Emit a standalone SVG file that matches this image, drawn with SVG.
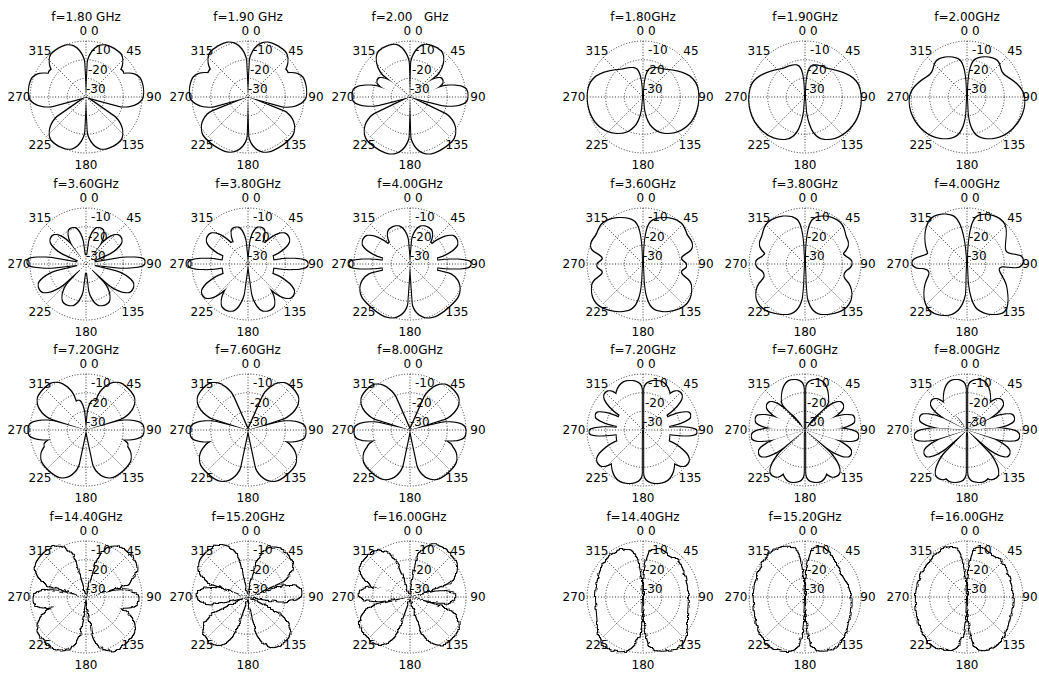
<svg xmlns="http://www.w3.org/2000/svg" width="1039" height="673" viewBox="0 0 1039 673">
<style>
.g{fill:none;stroke:#000;stroke-width:0.8;stroke-dasharray:1 1.8}
text{font-family:"DejaVu Sans","Liberation Sans",sans-serif;font-size:12px;fill:#000}
.m{text-anchor:middle}
</style>
<defs>
<g id="grid" class="g">
<circle r="56"/><circle r="37.3"/><circle r="18.7"/>
<path d="M0,-56V56M-56,0H56M-39.6,-39.6L39.6,39.6M39.6,-39.6L-39.6,39.6"/>
</g>
<path id="pt" d="M0,0 L0.92,-0.55 C1.1,-0.66 1.1,-0.9 0.6,-0.98 C0.3,-1.02 -0.3,-1.02 -0.6,-0.98 C-1.1,-0.9 -1.1,-0.66 -0.92,-0.55 Z"/>
<path id="hp" d="M0,0 L0,-0.8 C0,-0.95 0.2,-1 0.45,-1 C0.8,-1 1,-0.85 1,-0.6 C1,-0.4 0.2,-0.3 0,0Z"/>
<filter id="ol" x="-20%" y="-20%" width="140%" height="140%">
<feMorphology in="SourceAlpha" operator="dilate" radius="1.4" result="d"/>
<feComposite in="d" in2="SourceAlpha" operator="out"/>
</filter>
<filter id="olj" x="-20%" y="-20%" width="140%" height="140%">
<feTurbulence type="fractalNoise" baseFrequency="0.2" numOctaves="2" seed="7" result="n"/>
<feDisplacementMap in="SourceAlpha" in2="n" scale="4" xChannelSelector="R" yChannelSelector="G" result="s"/>
<feMorphology in="s" operator="dilate" radius="1.4" result="d"/>
<feComposite in="d" in2="s" operator="out"/>
</filter>
</defs>
<rect width="1039" height="673" fill="#fff"/>

<g id="l1" transform="translate(86,97)">
<use href="#grid"/>
<text class="m" y="-76">f=1.80 GHz</text><text class="m" x="3" y="-62">0 0</text>
<text class="m" x="-46" y="-42">315</text><text class="m" x="48" y="-42">45</text>
<text class="m" x="-67" y="4">270</text><text class="m" x="68" y="4">90</text>
<text class="m" x="-46" y="52">225</text><text class="m" x="47" y="52">135</text>
<text class="m" y="72">180</text>
<text x="5" y="-43">-10</text><text x="2" y="-23">-20</text><text x="0" y="-4">-30</text>
<g filter="url(#ol)">
<use href="#pt" transform="rotate(29) scale(16.1,55)"/><use href="#pt" transform="rotate(55) scale(5.6,44)"/><use href="#pt" transform="rotate(80) scale(15.9,57)"/><use href="#pt" transform="rotate(151) scale(16.1,55)"/>
<use href="#pt" transform="rotate(-29) scale(16.1,55)"/><use href="#pt" transform="rotate(-55) scale(5.6,44)"/><use href="#pt" transform="rotate(-80) scale(15.9,57)"/><use href="#pt" transform="rotate(-151) scale(16.1,55)"/>
</g>
</g>

<g id="l2" transform="translate(248,97)">
<use href="#grid"/>
<text class="m" y="-76">f=1.90 GHz</text><text class="m" x="3" y="-62">0 0</text>
<text class="m" x="-46" y="-42">315</text><text class="m" x="48" y="-42">45</text>
<text class="m" x="-67" y="4">270</text><text class="m" x="68" y="4">90</text>
<text class="m" x="-46" y="52">225</text><text class="m" x="47" y="52">135</text>
<text class="m" y="72">180</text>
<text x="5" y="-43">-10</text><text x="2" y="-23">-20</text><text x="0" y="-4">-30</text>
<g filter="url(#ol)">
<use href="#pt" transform="rotate(30) scale(17.7,58)"/><use href="#pt" transform="rotate(56) scale(6.9,46)"/><use href="#pt" transform="rotate(80) scale(16.2,58)"/><use href="#pt" transform="rotate(145) scale(22.6,58)"/>
<use href="#pt" transform="rotate(-30) scale(17.7,58)"/><use href="#pt" transform="rotate(-56) scale(6.9,46)"/><use href="#pt" transform="rotate(-80) scale(16.2,58)"/><use href="#pt" transform="rotate(-145) scale(22.6,58)"/>
</g>
</g>

<g id="l3" transform="translate(410,97)">
<use href="#grid"/>
<text class="m" y="-76" style="white-space:pre">f=2.00   GHz</text><text class="m" x="3" y="-62">0 0</text>
<text class="m" x="-46" y="-42">315</text><text class="m" x="48" y="-42">45</text>
<text class="m" x="-67" y="4">270</text><text class="m" x="68" y="4">90</text>
<text class="m" x="-46" y="52">225</text><text class="m" x="47" y="52">135</text>
<text class="m" y="72">180</text>
<text x="5" y="-43">-10</text><text x="2" y="-23">-20</text><text x="0" y="-4">-30</text>
<g filter="url(#ol)">
<use href="#pt" transform="rotate(26) scale(14.7,55)"/><use href="#pt" transform="rotate(62) scale(4.6,36)"/><use href="#pt" transform="rotate(88) scale(9.8,57)"/><use href="#pt" transform="rotate(147) scale(21.6,60)"/>
<use href="#pt" transform="rotate(-26) scale(14.7,55)"/><use href="#pt" transform="rotate(-62) scale(4.6,36)"/><use href="#pt" transform="rotate(-88) scale(9.8,57)"/><use href="#pt" transform="rotate(-147) scale(21.6,60)"/>
</g>
</g>

<g id="l4" transform="translate(86,264)">
<use href="#grid"/>
<text class="m" y="-76">f=3.60GHz</text><text class="m" x="3" y="-62">0 0</text>
<text class="m" x="-46" y="-42">315</text><text class="m" x="48" y="-42">45</text>
<text class="m" x="-67" y="4">270</text><text class="m" x="68" y="4">90</text>
<text class="m" x="-46" y="52">225</text><text class="m" x="47" y="52">135</text>
<text class="m" y="72">180</text>
<text x="5" y="-43">-10</text><text x="2" y="-23">-20</text><text x="0" y="-4">-30</text>
<g filter="url(#ol)">
<circle r="9"/>
<use href="#pt" transform="rotate(22) scale(5.7,38)"/><use href="#pt" transform="rotate(52) scale(6.4,43)"/><use href="#pt" transform="rotate(88) scale(4.9,58)"/><use href="#pt" transform="rotate(118) scale(7.8,52)"/><use href="#pt" transform="rotate(155) scale(8.6,44)"/>
<use href="#pt" transform="rotate(-22) scale(5.7,38)"/><use href="#pt" transform="rotate(-52) scale(6.4,43)"/><use href="#pt" transform="rotate(-88) scale(4.9,58)"/><use href="#pt" transform="rotate(-118) scale(7.8,52)"/><use href="#pt" transform="rotate(-155) scale(8.6,44)"/>
</g>
</g>

<g id="l5" transform="translate(248,264)">
<use href="#grid"/>
<text class="m" y="-76">f=3.80GHz</text><text class="m" x="3" y="-62">0 0</text>
<text class="m" x="-46" y="-42">315</text><text class="m" x="48" y="-42">45</text>
<text class="m" x="-67" y="4">270</text><text class="m" x="68" y="4">90</text>
<text class="m" x="-46" y="52">225</text><text class="m" x="47" y="52">135</text>
<text class="m" y="72">180</text>
<text x="5" y="-43">-10</text><text x="2" y="-23">-20</text><text x="0" y="-4">-30</text>
<g filter="url(#ol)">
<ellipse cx="13.5" rx="12" ry="22"/><ellipse cx="-13.5" rx="12" ry="22"/>
<use href="#pt" transform="rotate(20) scale(5.7,38)"/><use href="#pt" transform="rotate(55) scale(7.7,48)"/><use href="#pt" transform="rotate(90) scale(5,59)"/><use href="#pt" transform="rotate(125) scale(7.5,54)"/><use href="#pt" transform="rotate(155) scale(9.2,50)"/>
<use href="#pt" transform="rotate(-20) scale(5.7,38)"/><use href="#pt" transform="rotate(-55) scale(7.7,48)"/><use href="#pt" transform="rotate(-90) scale(5,59)"/><use href="#pt" transform="rotate(-125) scale(7.5,54)"/><use href="#pt" transform="rotate(-155) scale(9.2,50)"/>
</g>
</g>

<g id="l6" transform="translate(410,264)">
<use href="#grid"/>
<text class="m" y="-76">f=4.00GHz</text><text class="m" x="3" y="-62">0 0</text>
<text class="m" x="-46" y="-42">315</text><text class="m" x="48" y="-42">45</text>
<text class="m" x="-67" y="4">270</text><text class="m" x="68" y="4">90</text>
<text class="m" x="-46" y="52">225</text><text class="m" x="47" y="52">135</text>
<text class="m" y="72">180</text>
<text x="5" y="-43">-10</text><text x="2" y="-23">-20</text><text x="0" y="-4">-30</text>
<g filter="url(#ol)">
<ellipse cx="14.5" rx="13" ry="24"/><ellipse cx="-14.5" rx="13" ry="24"/>
<use href="#pt" transform="rotate(25) scale(8.7,40)"/><use href="#pt" transform="rotate(62) scale(7.8,52)"/><use href="#pt" transform="rotate(90) scale(4.4,60)"/><use href="#pt" transform="rotate(140) scale(24.8,57)"/>
<use href="#pt" transform="rotate(-25) scale(8.7,40)"/><use href="#pt" transform="rotate(-62) scale(7.8,52)"/><use href="#pt" transform="rotate(-90) scale(4.4,60)"/><use href="#pt" transform="rotate(-140) scale(24.8,57)"/>
</g>
</g>

<g id="l7" transform="translate(86,430)">
<use href="#grid"/>
<text class="m" y="-76">f=7.20GHz</text><text class="m" x="3" y="-62">0 0</text>
<text class="m" x="-46" y="-42">315</text><text class="m" x="48" y="-42">45</text>
<text class="m" x="-67" y="4">270</text><text class="m" x="68" y="4">90</text>
<text class="m" x="-46" y="52">225</text><text class="m" x="47" y="52">135</text>
<text class="m" y="72">180</text>
<text x="5" y="-43">-10</text><text x="2" y="-23">-20</text><text x="0" y="-4">-30</text>
<g filter="url(#ol)">
<use href="#pt" transform="rotate(16) scale(3.2,30)"/><use href="#pt" transform="rotate(46) scale(17,58)"/><use href="#pt" transform="rotate(90) scale(9.2,57)"/><use href="#pt" transform="rotate(112) scale(4.7,44)"/><use href="#pt" transform="rotate(138) scale(18.7,54)"/>
<use href="#pt" transform="rotate(-16) scale(3.2,30)"/><use href="#pt" transform="rotate(-46) scale(17,58)"/><use href="#pt" transform="rotate(-90) scale(9.2,57)"/><use href="#pt" transform="rotate(-112) scale(4.7,44)"/><use href="#pt" transform="rotate(-138) scale(18.7,54)"/>
</g>
</g>

<g id="l8" transform="translate(248,430)">
<use href="#grid"/>
<text class="m" y="-76">f=7.60GHz</text><text class="m" x="3" y="-62">0 0</text>
<text class="m" x="-46" y="-42">315</text><text class="m" x="48" y="-42">45</text>
<text class="m" x="-67" y="4">270</text><text class="m" x="68" y="4">90</text>
<text class="m" x="-46" y="52">225</text><text class="m" x="47" y="52">135</text>
<text class="m" y="72">180</text>
<text x="5" y="-43">-10</text><text x="2" y="-23">-20</text><text x="0" y="-4">-30</text>
<g filter="url(#ol)">
<use href="#pt" transform="rotate(48) scale(16,60)"/><use href="#pt" transform="rotate(92) scale(9.8,57)"/><use href="#pt" transform="rotate(114) scale(4.4,46)"/><use href="#pt" transform="rotate(138) scale(20.1,58)"/>
<use href="#pt" transform="rotate(-48) scale(16,60)"/><use href="#pt" transform="rotate(-92) scale(9.8,57)"/><use href="#pt" transform="rotate(-114) scale(4.4,46)"/><use href="#pt" transform="rotate(-138) scale(20.1,58)"/>
</g>
</g>

<g id="l9" transform="translate(410,430)">
<use href="#grid"/>
<text class="m" y="-76">f=8.00GHz</text><text class="m" x="3" y="-62">0 0</text>
<text class="m" x="-46" y="-42">315</text><text class="m" x="48" y="-42">45</text>
<text class="m" x="-67" y="4">270</text><text class="m" x="68" y="4">90</text>
<text class="m" x="-46" y="52">225</text><text class="m" x="47" y="52">135</text>
<text class="m" y="72">180</text>
<text x="5" y="-43">-10</text><text x="2" y="-23">-20</text><text x="0" y="-4">-30</text>
<g filter="url(#ol)">
<use href="#pt" transform="rotate(48) scale(15.5,58)"/><use href="#pt" transform="rotate(92) scale(8.8,55)"/><use href="#pt" transform="rotate(114) scale(4.4,45)"/><use href="#pt" transform="rotate(138) scale(19.4,56)"/>
<use href="#pt" transform="rotate(-48) scale(15.5,58)"/><use href="#pt" transform="rotate(-92) scale(8.8,55)"/><use href="#pt" transform="rotate(-114) scale(4.4,45)"/><use href="#pt" transform="rotate(-138) scale(19.4,56)"/>
</g>
</g>

<g id="l10" transform="translate(86,597)">
<use href="#grid"/>
<text class="m" y="-76">f=14.40GHz</text><text class="m" x="3" y="-62">0 0</text>
<text class="m" x="-46" y="-42">315</text><text class="m" x="48" y="-42">45</text>
<text class="m" x="-67" y="4">270</text><text class="m" x="68" y="4">90</text>
<text class="m" x="-46" y="52">225</text><text class="m" x="47" y="52">135</text>
<text class="m" y="72">180</text>
<text x="5" y="-43">-10</text><text x="2" y="-23">-20</text><text x="0" y="-4">-30</text>
<g filter="url(#olj)">
<use href="#pt" transform="rotate(45) scale(19.2,60)"/><use href="#pt" transform="rotate(93) scale(8.4,52)"/><use href="#pt" transform="rotate(115) scale(4.4,46)"/><use href="#pt" transform="rotate(140) scale(20.8,60)"/>
<use href="#pt" transform="rotate(-45) scale(19.2,60)"/><use href="#pt" transform="rotate(-93) scale(8.4,52)"/><use href="#pt" transform="rotate(-115) scale(4.4,46)"/><use href="#pt" transform="rotate(-140) scale(20.8,60)"/>
</g>
</g>

<g id="l11" transform="translate(248,597)">
<use href="#grid"/>
<text class="m" y="-76">f=15.20GHz</text><text class="m" x="3" y="-62">0 0</text>
<text class="m" x="-46" y="-42">315</text><text class="m" x="48" y="-42">45</text>
<text class="m" x="-67" y="4">270</text><text class="m" x="68" y="4">90</text>
<text class="m" x="-46" y="52">225</text><text class="m" x="47" y="52">135</text>
<text class="m" y="72">180</text>
<text x="5" y="-43">-10</text><text x="2" y="-23">-20</text><text x="0" y="-4">-30</text>
<g filter="url(#olj)">
<use href="#pt" transform="rotate(40) scale(16.7,57)"/><use href="#pt" transform="rotate(85) scale(7.3,53)"/><use href="#pt" transform="rotate(143) scale(15.2,57)"/>
<use href="#pt" transform="rotate(222) scale(14.1,58)"/><use href="#pt" transform="rotate(272) scale(7.5,50)"/><use href="#pt" transform="rotate(318) scale(19.2,60)"/>
</g>
</g>

<g id="l12" transform="translate(410,597)">
<use href="#grid"/>
<text class="m" y="-76">f=16.00GHz</text><text class="m" x="3" y="-62">0 0</text>
<text class="m" x="-46" y="-42">315</text><text class="m" x="48" y="-42">45</text>
<text class="m" x="-67" y="4">270</text><text class="m" x="68" y="4">90</text>
<text class="m" x="-46" y="52">225</text><text class="m" x="47" y="52">135</text>
<text class="m" y="72">180</text>
<text x="5" y="-43">-10</text><text x="2" y="-23">-20</text><text x="0" y="-4">-30</text>
<g filter="url(#olj)">
<use href="#pt" transform="rotate(40) scale(20.1,58)"/><use href="#pt" transform="rotate(90) scale(5.7,45)"/><use href="#pt" transform="rotate(134) scale(17.7,58)"/>
<use href="#pt" transform="rotate(228) scale(18.5,58)"/><use href="#pt" transform="rotate(274) scale(6.4,50)"/><use href="#pt" transform="rotate(312) scale(17,58)"/>
</g>
</g>

<g id="r1" transform="translate(643,97)">
<use href="#grid"/>
<text class="m" y="-76">f=1.80GHz</text><text class="m" x="3" y="-62">0 0</text>
<text class="m" x="-46" y="-42">315</text><text class="m" x="48" y="-42">45</text>
<text class="m" x="-69" y="4">270</text><text class="m" x="63" y="4">90</text>
<text class="m" x="-46" y="52">225</text><text class="m" x="47" y="52">135</text>
<text class="m" y="72">180</text>
<text x="5" y="-43">-10</text><text x="2" y="-23">-20</text><text x="0" y="-4">-30</text>
<g filter="url(#ol)">
<path id="r1h" d="M1,0 C1,-10 2,-22 6,-27 C10,-31 16,-28 24,-27 C38,-26 50,-22 54,-10 C57,0 55,14 48,24 C40,34 28,38 18,35 C9,32 4,24 2,12 Z"/>
<use href="#r1h" transform="scale(-1,1)"/>
</g>
</g>

<g id="r2" transform="translate(805,97)">
<use href="#grid"/>
<text class="m" y="-76">f=1.90GHz</text><text class="m" x="3" y="-62">0 0</text>
<text class="m" x="-46" y="-42">315</text><text class="m" x="48" y="-42">45</text>
<text class="m" x="-69" y="4">270</text><text class="m" x="63" y="4">90</text>
<text class="m" x="-46" y="52">225</text><text class="m" x="47" y="52">135</text>
<text class="m" y="72">180</text>
<text x="5" y="-43">-10</text><text x="2" y="-23">-20</text><text x="0" y="-4">-30</text>
<g filter="url(#ol)">
<path id="r2h" d="M1,0 C1,-12 2,-26 6,-30 C10,-34 16,-30 22,-28 C34,-26 48,-22 53,-12 C58,0 56,14 50,24 C42,36 32,42 22,42 C12,42 5,34 2,14 Z"/>
<use href="#r2h" transform="scale(-1,1)"/>
</g>
</g>

<g id="r3" transform="translate(967,97)">
<use href="#grid"/>
<text class="m" y="-76">f=2.00GHz</text><text class="m" x="3" y="-62">0 0</text>
<text class="m" x="-46" y="-42">315</text><text class="m" x="48" y="-42">45</text>
<text class="m" x="-69" y="4">270</text><text class="m" x="63" y="4">90</text>
<text class="m" x="-46" y="52">225</text><text class="m" x="47" y="52">135</text>
<text class="m" y="72">180</text>
<text x="5" y="-43">-10</text><text x="2" y="-23">-20</text><text x="0" y="-4">-30</text>
<g filter="url(#ol)">
<path id="r3h" d="M1,0 C1,-14 2,-30 7,-36 C12,-41 24,-41 30,-36 C34,-32 32,-25 38,-21 C46,-16 55,-10 57,0 C59,12 52,26 42,34 C32,42 20,43 12,39 C5,35 2,24 1.5,12 Z"/>
<use href="#r3h" transform="scale(-1,1)"/>
</g>
</g>

<g id="r4" transform="translate(643,264)">
<use href="#grid"/>
<text class="m" y="-76">f=3.60GHz</text><text class="m" x="3" y="-62">0 0</text>
<text class="m" x="-46" y="-42">315</text><text class="m" x="48" y="-42">45</text>
<text class="m" x="-69" y="4">270</text><text class="m" x="63" y="4">90</text>
<text class="m" x="-46" y="52">225</text><text class="m" x="47" y="52">135</text>
<text class="m" y="72">180</text>
<text x="5" y="-43">-10</text><text x="2" y="-23">-20</text><text x="0" y="-4">-30</text>
<g filter="url(#ol)">
<path id="r4h" d="M1,0 C1,-16 2,-36 8,-42 C14,-48 30,-47 37,-41 C42,-37 42,-31 45,-27 C49,-22 51,-17 46,-13 C42,-10 37,-8 38,-5 C39,-2 44,-1 43,2 C42,5 37,5 38,9 C39,13 47,15 48,22 C49,31 46,38 40,42 C32,47 20,49 12,45 C5,41 2,28 1.5,12 Z"/>
<use href="#r4h" transform="scale(-1.06,1)"/>
</g>
</g>

<g id="r5" transform="translate(805,264)">
<use href="#grid"/>
<text class="m" y="-76">f=3.80GHz</text><text class="m" x="3" y="-62">0 0</text>
<text class="m" x="-46" y="-42">315</text><text class="m" x="48" y="-42">45</text>
<text class="m" x="-69" y="4">270</text><text class="m" x="63" y="4">90</text>
<text class="m" x="-46" y="52">225</text><text class="m" x="47" y="52">135</text>
<text class="m" y="72">180</text>
<text x="5" y="-43">-10</text><text x="2" y="-23">-20</text><text x="0" y="-4">-30</text>
<g filter="url(#ol)">
<path id="r5h" d="M1,0 C1,-16 2,-38 8,-44 C14,-50 28,-48 35,-41 C40,-36 39,-30 42,-24 C45,-18 40,-14 38,-11 C37,-8 44,-6 46,-3 C48,1 44,4 41,6 C38,9 37,13 41,17 C46,22 48,30 45,37 C41,46 32,49 22,50 C12,51 6,46 3,34 C2,26 1.5,16 1.5,12 Z"/>
<use href="#r5h" transform="scale(-1.05,1)"/>
</g>
</g>

<g id="r6" transform="translate(967,264)">
<use href="#grid"/>
<text class="m" y="-76">f=4.00GHz</text><text class="m" x="3" y="-62">0 0</text>
<text class="m" x="-46" y="-42">315</text><text class="m" x="48" y="-42">45</text>
<text class="m" x="-69" y="4">270</text><text class="m" x="63" y="4">90</text>
<text class="m" x="-46" y="52">225</text><text class="m" x="47" y="52">135</text>
<text class="m" y="72">180</text>
<text x="5" y="-43">-10</text><text x="2" y="-23">-20</text><text x="0" y="-4">-30</text>
<g filter="url(#ol)">
<path d="M1,0 C1,-18 3,-42 10,-47 C17,-52 32,-48 37,-40 C41,-33 37,-22 38,-14 C39,-9 47,-10 53,-8 C58,-5 56,2 50,3 C43,4 34,0 32,4 C30,8 37,14 39,22 C41,32 42,44 36,48 C29,52 16,50 10,44 C5,38 2,26 1.5,12 Z"/>
<path d="M-1,0 C-1,-18 -5,-44 -15,-48 C-25,-52 -36,-48 -39,-40 C-43,-30 -42,-20 -39,-12 C-37,-8 -48,-8 -53,-4 C-57,0 -52,4 -46,4 C-40,4 -36,6 -38,12 C-41,18 -44,26 -42,36 C-40,46 -32,51 -22,51 C-12,51 -5,44 -2,30 C-1.5,22 -1.5,16 -1.5,12 Z"/>
</g>
</g>

<g id="r7" transform="translate(643,430)">
<use href="#grid"/>
<text class="m" y="-76">f=7.20GHz</text><text class="m" x="3" y="-62">0 0</text>
<text class="m" x="-46" y="-42">315</text><text class="m" x="48" y="-42">45</text>
<text class="m" x="-69" y="4">270</text><text class="m" x="63" y="4">90</text>
<text class="m" x="-46" y="52">225</text><text class="m" x="47" y="52">135</text>
<text class="m" y="72">180</text>
<text x="5" y="-43">-10</text><text x="2" y="-23">-20</text><text x="0" y="-4">-30</text>
<g filter="url(#ol)">
<g id="r7h">
<use href="#hp" transform="translate(1.2,0) scale(26,49)"/><use href="#hp" transform="translate(1.2,0) scale(30,-53)"/>
<ellipse cx="14" cy="2" rx="12.5" ry="26"/>
<use href="#pt" transform="rotate(45) scale(6.6,52)"/><use href="#pt" transform="rotate(72) scale(4.7,49)"/><use href="#pt" transform="rotate(92) scale(3.9,53)"/><use href="#pt" transform="rotate(127) scale(7.6,55)"/>
</g>
<use href="#r7h" transform="scale(-1,1)"/>
</g>
</g>

<g id="r8" transform="translate(805,430)">
<use href="#grid"/>
<text class="m" y="-76">f=7.60GHz</text><text class="m" x="3" y="-62">0 0</text>
<text class="m" x="-46" y="-42">315</text><text class="m" x="48" y="-42">45</text>
<text class="m" x="-69" y="4">270</text><text class="m" x="63" y="4">90</text>
<text class="m" x="-46" y="52">225</text><text class="m" x="47" y="52">135</text>
<text class="m" y="72">180</text>
<text x="5" y="-43">-10</text><text x="2" y="-23">-20</text><text x="0" y="-4">-30</text>
<g filter="url(#ol)">
<g id="r8h">
<use href="#hp" transform="translate(1.2,0) scale(22,50)"/><use href="#hp" transform="translate(1.2,0) scale(22,-52)"/>
<use href="#pt" transform="rotate(55) scale(5.5,45)"/><use href="#pt" transform="rotate(77) scale(5.8,50)"/><use href="#pt" transform="rotate(97) scale(5.8,53)"/><use href="#pt" transform="rotate(118) scale(5.8,51)"/><use href="#pt" transform="rotate(145) scale(7.5,55)"/>
</g>
<use href="#r8h" transform="scale(-1,1)"/>
</g>
</g>

<g id="r9" transform="translate(967,430)">
<use href="#grid"/>
<text class="m" y="-76">f=8.00GHz</text><text class="m" x="3" y="-62">0 0</text>
<text class="m" x="-46" y="-42">315</text><text class="m" x="48" y="-42">45</text>
<text class="m" x="-69" y="4">270</text><text class="m" x="63" y="4">90</text>
<text class="m" x="-46" y="52">225</text><text class="m" x="47" y="52">135</text>
<text class="m" y="72">180</text>
<text x="5" y="-43">-10</text><text x="2" y="-23">-20</text><text x="0" y="-4">-30</text>
<g filter="url(#ol)">
<g id="r9h">
<use href="#hp" transform="translate(1.2,0) scale(22,50)"/><use href="#hp" transform="translate(1.2,0) scale(24,-52)"/>
<use href="#pt" transform="rotate(50) scale(5.8,45)"/><use href="#pt" transform="rotate(75) scale(5.5,48)"/><use href="#pt" transform="rotate(97) scale(5.6,52)"/><use href="#pt" transform="rotate(120) scale(5.5,48)"/><use href="#pt" transform="rotate(150) scale(8,55)"/>
</g>
<use href="#r9h" transform="scale(-1,1)"/>
</g>
</g>

<g id="r10" transform="translate(643,597)">
<use href="#grid"/>
<text class="m" y="-76">f=14.40GHz</text><text class="m" x="3" y="-62">0 0</text>
<text class="m" x="-46" y="-42">315</text><text class="m" x="48" y="-42">45</text>
<text class="m" x="-69" y="4">270</text><text class="m" x="63" y="4">90</text>
<text class="m" x="-46" y="52">225</text><text class="m" x="47" y="52">135</text>
<text class="m" y="72">180</text>
<text x="5" y="-43">-10</text><text x="2" y="-23">-20</text><text x="0" y="-4">-30</text>
<g filter="url(#olj)">
<path d="M1,0 C1,-18 2,-40 8,-46 C13,-50 20,-48 24,-42 C27,-38 30,-40 34,-36 C40,-30 42,-20 44,-10 C46,0 44,12 44,22 C44,32 44,42 38,48 C30,54 16,55 10,52 C4,48 2,34 1.5,14 Z"/>
<path d="M-1,0 C-1,-18 -4,-44 -14,-47 C-24,-50 -36,-40 -41,-30 C-45,-20 -47,-10 -47,0 C-47,12 -45,22 -45,32 C-45,44 -38,52 -26,54 C-14,56 -5,48 -2,30 C-1.5,22 -1.5,16 -1.5,12 Z"/>
</g>
</g>

<g id="r11" transform="translate(805,597)">
<use href="#grid"/>
<text class="m" y="-76">f=15.20GHz</text><text class="m" x="3" y="-62">0 0</text>
<text class="m" x="-46" y="-42">315</text><text class="m" x="48" y="-42">45</text>
<text class="m" x="-69" y="4">270</text><text class="m" x="63" y="4">90</text>
<text class="m" x="-46" y="52">225</text><text class="m" x="47" y="52">135</text>
<text class="m" y="72">180</text>
<text x="5" y="-43">-10</text><text x="2" y="-23">-20</text><text x="0" y="-4">-30</text>
<g filter="url(#olj)">
<path d="M1,0 C1,-18 3,-46 10,-49 C16,-52 22,-48 26,-42 C30,-34 36,-22 42,-12 C47,-2 46,10 44,20 C42,32 38,44 30,50 C22,55 12,55 8,50 C4,44 2,30 1.5,14 Z"/>
<path d="M-1,0 C-1,-18 -4,-48 -14,-50 C-26,-52 -38,-44 -44,-30 C-50,-16 -52,-6 -51,6 C-50,20 -48,32 -42,42 C-36,52 -22,56 -12,53 C-5,50 -2,36 -1.5,14 Z"/>
</g>
</g>

<g id="r12" transform="translate(967,597)">
<use href="#grid"/>
<text class="m" y="-76">f=16.00GHz</text><text class="m" x="3" y="-62">0 0</text>
<text class="m" x="-46" y="-42">315</text><text class="m" x="48" y="-42">45</text>
<text class="m" x="-69" y="4">270</text><text class="m" x="63" y="4">90</text>
<text class="m" x="-46" y="52">225</text><text class="m" x="47" y="52">135</text>
<text class="m" y="72">180</text>
<text x="5" y="-43">-10</text><text x="2" y="-23">-20</text><text x="0" y="-4">-30</text>
<g filter="url(#olj)">
<path d="M1,0 C1,-18 3,-46 10,-49 C16,-51 20,-44 27,-40 C34,-36 38,-32 41,-22 C45,-10 47,0 45,10 C43,22 40,34 33,44 C27,52 18,55 11,52 C5,48 2,32 1.5,14 Z"/>
<path d="M-1,0 C-1,-18 -5,-48 -14,-50 C-24,-50 -30,-44 -36,-36 C-44,-28 -50,-16 -51,-2 C-52,14 -48,28 -43,38 C-38,48 -28,54 -17,53 C-7,52 -3,40 -1.5,14 Z"/>
</g>
</g>
</svg>
